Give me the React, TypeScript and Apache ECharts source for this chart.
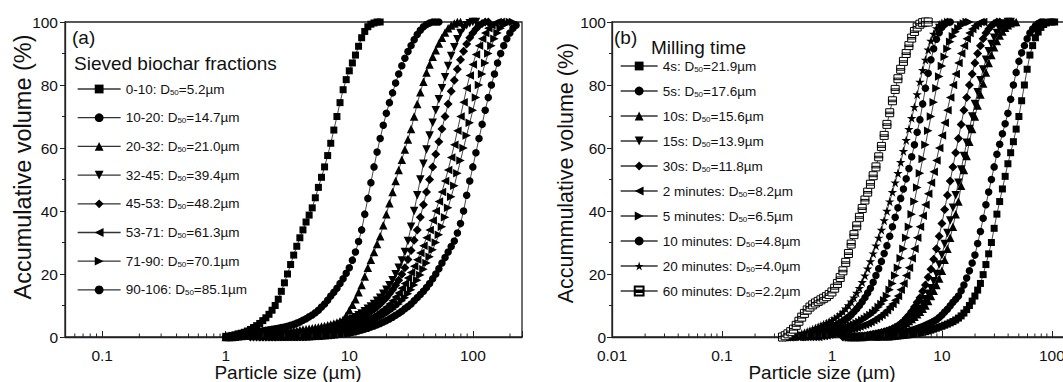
import React, { useEffect, useRef } from 'react';
import * as echarts from 'echarts';

const FONT = '"Liberation Sans", Arial, Helvetica, sans-serif';

// Shared particle size classes (µm), 40 classes per decade
const SIZE_BINS = [
  0.316, 0.335, 0.355, 0.376, 0.398, 0.422, 0.447, 0.473, 0.501, 0.531,
  0.562, 0.596, 0.631, 0.668, 0.708, 0.75, 0.794, 0.841, 0.891, 0.944,
  1.0, 1.059, 1.122, 1.189, 1.259, 1.334, 1.413, 1.496, 1.585, 1.679,
  1.778, 1.884, 1.995, 2.113, 2.239, 2.371, 2.512, 2.661, 2.818, 2.985,
  3.162, 3.35, 3.548, 3.758, 3.981, 4.217, 4.467, 4.732, 5.012, 5.309,
  5.623, 5.957, 6.31, 6.683, 7.079, 7.499, 7.943, 8.414, 8.913, 9.441,
  10.0, 10.59, 11.22, 11.89, 12.59, 13.34, 14.13, 14.96, 15.85, 16.79,
  17.78, 18.84, 19.95, 21.13, 22.39, 23.71, 25.12, 26.61, 28.18, 29.85,
  31.62, 33.5, 35.48, 37.58, 39.81, 42.17, 44.67, 47.32, 50.12, 53.09,
  56.23, 59.57, 63.1, 66.83, 70.79, 74.99, 79.43, 84.14, 89.13, 94.41,
  100.0, 105.9, 112.2, 118.9, 125.9, 133.4, 141.3, 149.6, 158.5, 167.9,
  177.8, 188.4, 199.5, 211.3, 223.9,
];

// Panel (a): sieved fractions (first class index + cumulative volume %)
const LEFT_NAMES = ['0-10', '10-20', '20-32', '32-45', '45-53', '53-71', '71-90', '90-106'];
const LEFT_D50 = ['5.2', '14.7', '21.0', '39.4', '48.2', '61.3', '70.1', '85.1'];
const LEFT_STARTS = [20, 20, 20, 28, 28, 30, 32, 34];
const V_0_10 = [0.2, 0.3, 0.5, 0.7, 1.0, 1.2, 1.5, 1.9, 2.4, 3.0, 3.6, 4.3, 5.2, 6.1, 7.2, 8.5, 10, 12, 14.5, 17.2, 20, 23, 26, 28.8, 31.5, 34, 36.5, 38.7, 41, 44.2, 47.5, 50.7, 54, 57.6, 61.5, 65.7, 70, 74.4, 78.5, 81.7, 84.5, 87, 89.5, 92.3, 95, 97, 98.5, 99.3, 99.7, 100, 100];
const V_10_20 = [0, 0.15, 0.3, 0.45, 0.6, 0.8, 1.0, 1.15, 1.3, 1.5, 1.7, 1.85, 2.0, 2.15, 2.3, 2.45, 2.6, 2.8, 3.0, 3.2, 3.4, 3.7, 4.0, 4.4, 4.8, 5.3, 5.8, 6.4, 7, 7.7, 8.5, 9.5, 10.5, 11.7, 13, 14.2, 15.5, 17, 18.5, 20.2, 22, 24.4, 27, 30.3, 34, 39, 44, 49, 54, 58.7, 63, 67.2, 71, 74.4, 77.5, 80.6, 83.5, 86.1, 88.5, 90.6, 92.5, 94.4, 96, 97.4, 98.5, 99.2, 99.7, 100, 100, 100];
const V_20_32 = [0, 0, 0, 0.1, 0.2, 0.3, 0.4, 0.5, 0.6, 0.7, 0.8, 0.9, 1.0, 1.1, 1.2, 1.3, 1.4, 1.5, 1.6, 1.7, 1.8, 1.9, 2.0, 2.1, 2.2, 2.35, 2.5, 2.65, 2.8, 2.95, 3.1, 3.3, 3.5, 3.75, 4.0, 4.3, 4.6, 5.0, 5.5, 6.8, 8.5, 10.2, 12, 14.2, 16.5, 19.2, 22, 24.5, 27, 29.5, 32, 35.5, 39, 42.5, 46, 49.5, 53, 56.3, 59.5, 62.7, 66, 70, 74, 77.7, 81, 84, 86.5, 89, 91, 93.2, 95, 96.7, 98, 98.9, 99.5, 100, 100];
const V_32_45 = [0, 0, 0, 0, 0, 0, 0, 0.05, 0.1, 0.15, 0.2, 0.25, 0.3, 0.4, 0.5, 0.6, 0.7, 0.85, 1.0, 1.15, 1.3, 1.5, 1.7, 1.95, 2.2, 2.5, 2.8, 3.15, 3.5, 3.9, 4.3, 4.75, 5.2, 5.75, 6.3, 6.9, 7.5, 8.2, 9, 9.7, 10.5, 11.5, 12.5, 13.7, 15, 16.4, 18, 19.9, 22, 24.3, 27, 30.5, 35, 40, 45, 50, 55, 59.5, 64, 68, 72, 75.5, 79, 82.5, 86, 89.2, 92, 94.5, 96.5, 98, 99, 99.6, 100, 100];
const V_45_53 = [0, 0, 0, 0, 0, 0, 0, 0, 0, 0.05, 0.1, 0.15, 0.2, 0.3, 0.4, 0.5, 0.6, 0.7, 0.8, 0.9, 1.0, 1.15, 1.3, 1.5, 1.7, 1.95, 2.2, 2.5, 2.8, 3.15, 3.5, 3.9, 4.3, 4.75, 5.2, 5.7, 6.2, 6.8, 7.4, 8.1, 8.8, 9.6, 10.5, 11.5, 12.5, 13.7, 15, 16.4, 18, 19.9, 22, 24.6, 27.5, 30.7, 34, 38, 42, 46, 50, 54, 58, 62, 66, 70, 74, 78, 81.5, 85, 88, 90.7, 93, 95, 96.5, 97.8, 98.8, 99.5, 100, 100];
const V_53_71 = [0, 0, 0, 0, 0, 0, 0, 0, 0, 0, 0, 0, 0, 0, 0.1, 0.2, 0.3, 0.4, 0.5, 0.65, 0.8, 0.95, 1.1, 1.3, 1.5, 1.75, 2.0, 2.25, 2.5, 2.8, 3.1, 3.45, 3.8, 4.2, 4.6, 5.1, 5.6, 6.15, 6.7, 7.3, 8, 8.7, 9.5, 10.5, 11.5, 12.7, 14, 15.5, 17, 18.7, 20.5, 22.5, 24.5, 26.7, 29, 31.5, 34, 37, 40, 43, 46, 49.5, 53, 57, 61, 65.5, 70, 74.5, 79, 83, 86.5, 89.7, 92.5, 94.7, 96.5, 98, 99, 99.6, 100, 100];
const V_71_90 = [0, 0, 0, 0, 0, 0, 0, 0, 0, 0, 0, 0, 0, 0, 0, 0, 0.3, 0.4, 0.5, 0.6, 0.7, 0.85, 1.0, 1.15, 1.3, 1.5, 1.7, 1.95, 2.2, 2.5, 2.8, 3.15, 3.5, 3.9, 4.3, 4.75, 5.2, 5.7, 6.2, 6.8, 7.4, 8.1, 8.8, 9.6, 10.5, 11.5, 12.5, 13.7, 15, 16.5, 18, 19.7, 21.5, 23.5, 25.5, 27.7, 30, 32.5, 35, 38, 41, 44.5, 48, 52, 56, 60, 64, 68, 72, 76, 80, 83.5, 87, 90, 92.5, 94.7, 96.5, 98, 99, 99.6, 100, 100];
const V_90_106 = [0, 0, 0, 0, 0, 0, 0, 0, 0, 0, 0, 0, 0, 0, 0.1, 0.15, 0.2, 0.25, 0.3, 0.4, 0.5, 0.6, 0.7, 0.85, 1.0, 1.15, 1.3, 1.5, 1.7, 1.95, 2.2, 2.5, 2.8, 3.15, 3.5, 3.9, 4.3, 4.75, 5.2, 5.75, 6.3, 6.9, 7.5, 8.2, 9, 9.7, 10.5, 11.5, 12.5, 13.5, 14.5, 15.7, 17, 18.5, 20, 21.7, 23.5, 25.2, 27, 28.7, 30.5, 33, 36, 40, 45, 49.5, 54, 58.5, 63, 67.5, 72, 76, 80, 83.5, 87, 90, 92.5, 94.7, 96.5, 98, 99];
const LEFT_VALUES = [V_0_10, V_10_20, V_20_32, V_32_45, V_45_53, V_53_71, V_71_90, V_90_106];

// Panel (b): milling time
const RIGHT_NAMES = ['4s', '5s', '10s', '15s', '30s', '2 minutes', '5 minutes', '10 minutes', '20 minutes', '60 minutes'];
const RIGHT_D50 = ['21.9', '17.6', '15.6', '13.9', '11.8', '8.2', '6.5', '4.8', '4.0', '2.2'];
const RIGHT_STARTS = [36, 32, 26, 28, 24, 8, 4, 2, 2, 2];
const V_4S = [0, 0, 0, 0, 0, 0, 0.1, 0.2, 0.3, 0.4, 0.5, 0.6, 0.7, 0.85, 1.0, 1.15, 1.3, 1.5, 1.7, 1.95, 2.2, 2.5, 2.8, 3.1, 3.4, 3.75, 4.1, 4.5, 4.9, 5.4, 6.0, 6.7, 7.6, 8.7, 10, 11.4, 13, 14.9, 17, 19.8, 23, 26.4, 30, 34.5, 39, 43, 47, 51, 55, 58.5, 62, 66, 70, 75, 80, 85, 89.5, 92.5, 95, 96.8, 98.3, 99.2, 99.7, 100, 100, 100];
const V_5S = [0, 0, 0, 0, 0, 0, 0.2, 0.35, 0.5, 0.65, 0.8, 0.95, 1.1, 1.3, 1.5, 1.7, 1.9, 2.15, 2.4, 2.7, 3.0, 3.35, 3.7, 4.1, 4.5, 5.0, 5.5, 6.2, 7, 7.9, 8.8, 9.9, 11, 12, 13, 14.7, 16.5, 18.7, 21, 23.5, 26, 29.7, 33.5, 37.7, 42, 46, 50, 54, 58, 61.2, 64.5, 67.7, 71, 75.5, 80, 84, 87.5, 90.2, 92.5, 94.7, 96.5, 97.8, 98.8, 99.5, 100, 100];
const V_10S = [0, 0, 0, 0, 0, 0, 0.2, 0.35, 0.5, 0.7, 0.9, 1.1, 1.3, 1.55, 1.8, 2.1, 2.4, 2.75, 3.1, 3.55, 4.0, 4.55, 5.1, 5.7, 6.4, 7.2, 8, 9, 10, 11.4, 13, 14.7, 16.5, 18.6, 21, 24.5, 28, 31.5, 35, 39, 43, 48, 53, 57.5, 62, 66, 70, 73.5, 77, 80.5, 84, 87, 89.5, 92, 94, 95.7, 97, 98.2, 99, 99.6, 100, 100];
const V_15S = [0, 0, 0, 0, 0, 0, 0.3, 0.45, 0.6, 0.8, 1.0, 1.2, 1.4, 1.7, 2.0, 2.35, 2.7, 3.2, 3.7, 4.3, 5, 5.9, 6.8, 7.9, 9, 10.5, 12, 13.7, 15.5, 17.7, 20, 23, 26, 29.5, 33, 37, 41, 45, 49, 53.2, 57.5, 61.7, 66, 70, 74, 77.7, 81.5, 84.9, 88, 90.7, 93, 95, 96.5, 97.8, 98.8, 99.5, 100, 100];
const V_30S = [0, 0, 0, 0, 0, 0, 0.2, 0.3, 0.4, 0.55, 0.7, 0.85, 1.0, 1.2, 1.4, 1.65, 1.9, 2.2, 2.6, 3.1, 3.6, 4.3, 5, 6, 7, 8.2, 9.5, 11, 12.5, 14.5, 16.5, 19, 21.5, 24.7, 28, 32, 36, 40.5, 45, 49.5, 54, 58.5, 63, 67.5, 72, 76, 80, 83.5, 87, 90, 92.5, 94.7, 96.5, 97.8, 98.8, 99.5, 100, 100];
const V_2MIN = [0, 0, 0, 0, 0, 0, 0, 0, 0.2, 0.35, 0.5, 0.7, 0.9, 1.1, 1.3, 1.5, 1.7, 1.95, 2.2, 2.45, 2.7, 3.0, 3.3, 3.65, 4.0, 4.4, 4.8, 5.3, 5.8, 6.4, 7, 7.7, 8.5, 9.5, 10.5, 11.7, 13, 15, 17, 19.5, 22, 25, 28, 31.5, 35, 38.5, 42, 45.5, 49, 52.5, 56, 60, 64, 68, 72, 76, 80, 83.5, 87, 90, 92.5, 94.7, 96.5, 97.8, 98.8, 99.5, 100, 100];
const V_5MIN = [0, 0, 0, 0, 0, 0, 0, 0, 0.1, 0.25, 0.4, 0.6, 0.8, 1.0, 1.2, 1.45, 1.7, 1.95, 2.2, 2.45, 2.7, 3.0, 3.3, 3.65, 4.0, 4.4, 4.8, 5.3, 5.8, 6.4, 7, 7.7, 8.5, 9.5, 10.5, 11.7, 13, 15, 17, 19.5, 22, 25, 28, 31.5, 35, 39, 43, 47.5, 52, 56.5, 61, 65.5, 70, 74.5, 79, 82.7, 86, 89, 91.5, 93.7, 95.5, 96.9, 98, 98.9, 99.5, 100, 100];
const V_10MIN = [0, 0, 0, 0, 0, 0, 0.3, 0.5, 0.7, 0.95, 1.2, 1.45, 1.7, 1.95, 2.2, 2.45, 2.7, 3.0, 3.3, 3.65, 4.0, 4.5, 5.0, 5.6, 6.3, 7.1, 8, 9, 10, 11.2, 12.5, 14, 15.5, 17.4, 19.5, 21.7, 24, 26.5, 29, 32, 35, 38, 41, 44, 47, 50.2, 53.5, 57.2, 61, 65, 69, 74, 79, 83.7, 88, 91.5, 94.5, 96.6, 98.3, 99.3, 100, 100];
const V_20MIN = [0, 0, 0, 0, 0.3, 0.5, 0.7, 1.0, 1.3, 1.65, 2.0, 2.4, 2.8, 3.2, 3.6, 4.0, 4.4, 4.85, 5.3, 5.9, 6.5, 7.2, 8, 9, 10, 11.2, 12.5, 14, 15.5, 17.4, 19.5, 21.7, 24, 26.5, 29, 31.5, 34, 37, 40, 43, 46, 49, 52, 55.5, 59, 62.5, 66, 69.5, 73, 77, 81, 84.7, 88, 91.2, 94, 96.2, 98, 99.1, 99.7, 100, 100];
const V_60MIN = [0, 0.4, 1.0, 1.7, 2.5, 3.7, 5, 6.3, 7.5, 8.6, 9.5, 10.2, 10.8, 11.3, 11.8, 12.3, 12.8, 13.5, 14.3, 15.5, 17, 18.9, 21, 23.7, 26.5, 29.5, 32.5, 35.3, 38, 40.8, 43.5, 46, 48.5, 51.2, 54, 57.2, 60.5, 64, 67.5, 71.2, 75, 78.6, 82, 85, 87.5, 90, 92.5, 94.9, 97, 98.4, 99.3, 99.8, 100, 100];
const RIGHT_VALUES = [V_4S, V_5S, V_10S, V_15S, V_30S, V_2MIN, V_5MIN, V_10MIN, V_20MIN, V_60MIN];

// Minor tick positions of the log axes
const LEFT_MINOR_TICKS = [0.06, 0.07, 0.08, 0.09, 0.2, 0.3, 0.4, 0.5, 0.6, 0.7, 0.8, 0.9, 2, 3, 4, 5, 6, 7, 8, 9, 20, 30, 40, 50, 60, 70, 80, 90, 200];
const RIGHT_MINOR_TICKS = [0.02, 0.03, 0.04, 0.05, 0.06, 0.07, 0.08, 0.09, 0.2, 0.3, 0.4, 0.5, 0.6, 0.7, 0.8, 0.9, 2, 3, 4, 5, 6, 7, 8, 9, 20, 30, 40, 50, 60, 70, 80, 90];

const SYM_DOWN = 'path://M0,0L10,0L5,9Z';
const SYM_LEFT = 'path://M0,5L9,0L9,10Z';
const SYM_RIGHT = 'path://M0,0L9,5L0,10Z';
const SYM_STAR = 'path://M5,0L6.2,3.6L10,3.6L6.9,5.8L8.1,9.5L5,7.2L1.9,9.5L3.1,5.8L0,3.6L3.8,3.6Z';
const SYM_HALF = 'path://M0,0L10,0L10,10L0,10Z M0,4.3L10,4.3L10,6.2L0,6.2Z';

const LEFT_SYMBOLS = ['rect', 'circle', 'triangle', SYM_DOWN, 'diamond', SYM_LEFT, SYM_RIGHT, 'circle'];
const RIGHT_SYMBOLS = ['rect', 'circle', 'triangle', SYM_DOWN, 'diamond', SYM_LEFT, SYM_RIGHT, 'circle', SYM_STAR, SYM_HALF];

function symSize(sym: string) {
  if (sym === 'triangle' || sym === SYM_DOWN || sym === SYM_LEFT || sym === SYM_RIGHT) return 8.5;
  if (sym === SYM_STAR) return 9.5;
  if (sym === 'diamond') return 9;
  if (sym === 'circle') return 7.5;
  if (sym === SYM_HALF) return 8;
  return 7;
}

function points(start: number, vals: number[]) {
  return vals.map((v, k) => [SIZE_BINS[start + k], v]);
}

function decadeLabel(v: number) {
  const l = Math.log10(v);
  if (Math.abs(l - Math.round(l)) < 1e-6) return String(Number(v.toPrecision(3)));
  return '';
}

function minorTickSeries(ticks: number[], idx: number) {
  return {
    type: 'custom',
    name: 'minor' + idx,
    xAxisIndex: idx,
    yAxisIndex: idx,
    silent: true,
    clip: false,
    z: 5,
    data: ticks.map((t) => [t, 0]),
    renderItem: (_p: any, api: any) => {
      const p = api.coord([api.value(0), 0]);
      return {
        type: 'line',
        shape: { x1: p[0], y1: p[1], x2: p[0], y2: p[1] - 3.5 },
        style: { stroke: '#222', lineWidth: 1 },
      };
    },
  };
}

export default function App() {
  const ref = useRef<HTMLDivElement>(null);
  useEffect(() => {
    if (!ref.current) return;
    const chart = echarts.init(ref.current, undefined, { renderer: 'svg' });

    const lineSeries = (names: string[], starts: number[], values: number[][], symbols: string[], idx: number) =>
      names.map((name, i) => {
        const half = symbols[i] === SYM_HALF;
        return {
          type: 'line',
          name,
          xAxisIndex: idx,
          yAxisIndex: idx,
          data: points(starts[i], values[i]),
          symbol: symbols[i],
          symbolSize: symSize(symbols[i]),
          showSymbol: true,
          lineStyle: { color: '#333', width: 0.9 },
          itemStyle: half ? { color: '#fff', borderColor: '#000', borderWidth: 1 } : { color: '#000' },
          emphasis: { disabled: true },
          z: 3,
        };
      });

    const rich = { s: { fontSize: 8, lineHeight: 6, verticalAlign: 'bottom', fontFamily: FONT, color: '#111' } };

    const xAxisBase = {
      type: 'log',
      logBase: 10,
      axisLine: { show: true, lineStyle: { color: '#222', width: 1.3 } },
      axisTick: { show: true, inside: true, length: 6, lineStyle: { color: '#222', width: 1 } },
      axisLabel: { formatter: decadeLabel, fontSize: 15.5, color: '#111', margin: 10, fontFamily: FONT },
      splitLine: { show: false },
      minorTick: { show: false },
    };
    const yAxisBase = {
      type: 'value',
      min: 0,
      max: 100,
      interval: 20,
      axisLine: { show: true, lineStyle: { color: '#222', width: 1.3 } },
      axisTick: { show: true, inside: false, length: 5, lineStyle: { color: '#222', width: 1 } },
      minorTick: { show: true, splitNumber: 2, length: 3, lineStyle: { color: '#222', width: 1 } },
      axisLabel: { fontSize: 15.5, color: '#111', margin: 7, fontFamily: FONT },
      splitLine: { show: false },
    };

    const option: any = {
      animation: false,
      backgroundColor: '#fff',
      grid: [
        { left: 65, top: 22, width: 457, height: 315, show: true, borderColor: '#222', borderWidth: 1.3, backgroundColor: 'transparent' },
        { left: 612, top: 22, width: 473, height: 315, show: true, borderColor: '#222', borderWidth: 1.3, backgroundColor: 'transparent' },
      ],
      xAxis: [
        { ...xAxisBase, gridIndex: 0, min: 0.05, max: 250 },
        { ...xAxisBase, gridIndex: 1, min: 0.01, max: 200 },
      ],
      yAxis: [
        { ...yAxisBase, gridIndex: 0 },
        { ...yAxisBase, gridIndex: 1, axisLabel: { ...yAxisBase.axisLabel, margin: 6 } },
      ],
      legend: [
        {
          data: LEFT_NAMES,
          orient: 'vertical',
          left: 77,
          top: 82,
          padding: 0,
          itemWidth: 43,
          itemHeight: 11,
          itemGap: 14.7,
          selectedMode: false,
          lineStyle: { width: 1.3 },
          formatter: (name: string) => `${name}: D{s|50}=${LEFT_D50[LEFT_NAMES.indexOf(name)]}µm`,
          textStyle: { fontSize: 13.5, lineHeight: 14, color: '#111', fontFamily: FONT, rich },
        },
        {
          data: RIGHT_NAMES,
          orient: 'vertical',
          left: 620,
          top: 59,
          padding: 0,
          itemWidth: 37,
          itemHeight: 11,
          itemGap: 11,
          selectedMode: false,
          lineStyle: { width: 1.3 },
          formatter: (name: string) => `${name}: D{s|50}=${RIGHT_D50[RIGHT_NAMES.indexOf(name)]}µm`,
          textStyle: { fontSize: 13.5, lineHeight: 14, color: '#111', fontFamily: FONT, rich },
        },
      ],
      graphic: [
        { type: 'text', x: 72, y: 37, style: { text: '(a)', fontSize: 19, fontFamily: FONT, fill: '#111', textAlign: 'left', textVerticalAlign: 'middle' } },
        { type: 'text', x: 74, y: 63, style: { text: 'Sieved biochar fractions', fontSize: 19, fontFamily: FONT, fill: '#111', textAlign: 'left', textVerticalAlign: 'middle' } },
        { type: 'text', x: 614, y: 37, style: { text: '(b)', fontSize: 19, fontFamily: FONT, fill: '#111', textAlign: 'left', textVerticalAlign: 'middle' } },
        { type: 'text', x: 651, y: 47, style: { text: 'Milling time', fontSize: 19, fontFamily: FONT, fill: '#111', textAlign: 'left', textVerticalAlign: 'middle' } },
        { type: 'text', x: 23, y: 167, rotation: Math.PI / 2, style: { text: 'Accumulative volume (%)', fontSize: 23.5, fontFamily: FONT, fill: '#111', textAlign: 'center', textVerticalAlign: 'middle' } },
        { type: 'text', x: 566, y: 173, rotation: Math.PI / 2, style: { text: 'Accummulative volume (%)', fontSize: 21.5, fontFamily: FONT, fill: '#111', textAlign: 'center', textVerticalAlign: 'middle' } },
        { type: 'text', x: 288, y: 372, style: { text: 'Particle size (µm)', fontSize: 19, fontFamily: FONT, fill: '#111', textAlign: 'center', textVerticalAlign: 'middle' } },
        { type: 'text', x: 822, y: 372, style: { text: 'Particle size (µm)', fontSize: 19, fontFamily: FONT, fill: '#111', textAlign: 'center', textVerticalAlign: 'middle' } },
      ],
      series: [
        ...lineSeries(LEFT_NAMES, LEFT_STARTS, LEFT_VALUES, LEFT_SYMBOLS, 0),
        ...lineSeries(RIGHT_NAMES, RIGHT_STARTS, RIGHT_VALUES, RIGHT_SYMBOLS, 1),
        minorTickSeries(LEFT_MINOR_TICKS, 0),
        minorTickSeries(RIGHT_MINOR_TICKS, 1),
      ],
    };
    chart.setOption(option);
    return () => chart.dispose();
  }, []);
  return <div ref={ref} style={{ position: 'fixed', left: 0, top: 0, width: 1100, height: 382 }} />;
}
